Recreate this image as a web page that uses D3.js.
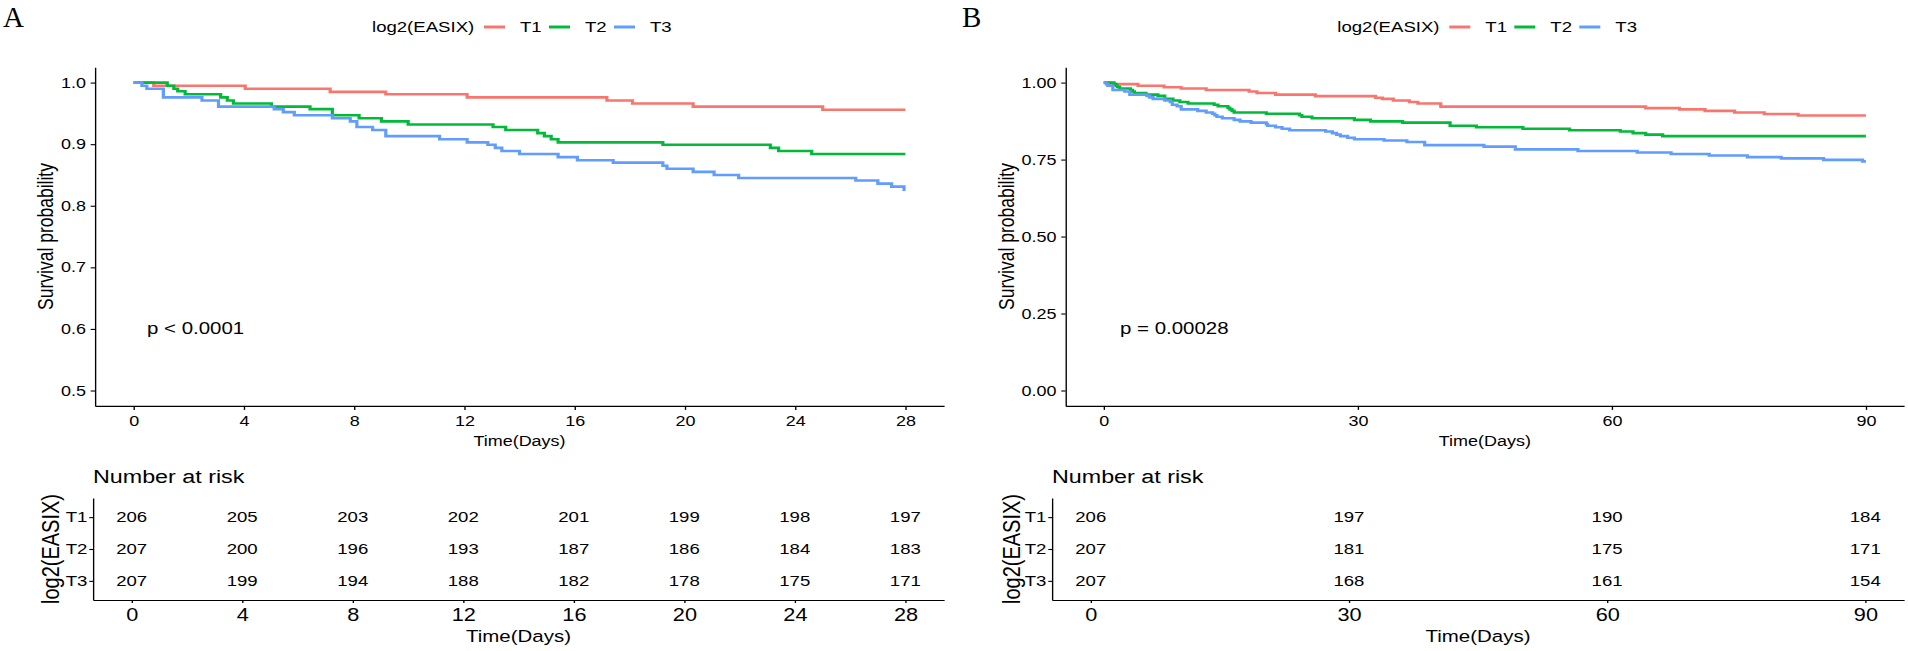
<!DOCTYPE html>
<html>
<head>
<meta charset="utf-8">
<script src="https://cdn.jsdelivr.net/npm/d3@7"></script>
<style>
  body { margin: 0; background: #fff; }
  svg { display: block; }
</style>
</head>
<body>
<svg id="chart"></svg>
<script>
// the whole figure is stretched a little in x, so draw in a narrower frame and stretch it
var W = 1908, H = 651, SX = 1.24;
var FONT = "'Liberation Sans', Arial, sans-serif";
function lx(v) { return v / SX; }

var groups = ["T1", "T2", "T3"];
var colors = ["#F8766D", "#00BA38", "#619CFF"];

// Kaplan-Meier steps up to day 28 (time of drop, survival after drop)
var t1Time = [0.73, 4.05, 7.13, 9.15, 12.1, 17.17, 18.1, 20.3, 25.0];
var t1Surv = [0.995, 0.990, 0.985, 0.981, 0.976, 0.971, 0.966, 0.961, 0.956];

var t2Time = [1.22, 1.46, 1.6, 1.87, 3.16, 3.4, 3.62, 5.0, 6.4, 7.21, 8.18, 8.99, 9.96,
              13.04, 13.5, 14.66, 14.9, 15.15, 15.4, 19.2, 23.1, 23.4, 24.6];
var t2Surv = [0.995, 0.990, 0.986, 0.981, 0.976, 0.971, 0.966, 0.961, 0.957, 0.947, 0.942, 0.937, 0.932,
              0.928, 0.923, 0.918, 0.913, 0.908, 0.903, 0.899, 0.894, 0.889, 0.884];

var t3Time = [0.3, 0.48, 1.08, 2.48, 3.08, 5.1, 5.43, 5.83, 7.21, 7.86, 8.1, 8.67, 9.15, 11.1,
              12.1, 12.85, 13.12, 13.36, 14.0, 15.4, 16.1, 17.4, 19.2, 19.35, 20.3, 21.06, 21.95,
              26.2, 27.0, 27.5, 27.95];
var t3Surv = [0.995, 0.990, 0.976, 0.971, 0.961, 0.957, 0.952, 0.947, 0.942, 0.937, 0.928, 0.923, 0.913, 0.908,
              0.903, 0.899, 0.894, 0.889, 0.884, 0.879, 0.874, 0.870, 0.865, 0.860, 0.855, 0.850, 0.845,
              0.841, 0.836, 0.831, 0.826];

// steps after day 28 (only in the 90 day panel)
var t1TimeLate = [32.1, 32.9, 34.2, 36.1, 37.1, 39.8, 64, 68, 71, 74.5, 78, 82];
var t1SurvLate = [0.951, 0.947, 0.942, 0.937, 0.932, 0.922, 0.917, 0.913, 0.908, 0.903, 0.898, 0.893];

var t2TimeLate = [29.6, 31.5, 35.3, 40.9, 44, 49.5, 55, 61, 62.5, 64, 66];
var t2SurvLate = [0.879, 0.874, 0.870, 0.860, 0.855, 0.850, 0.845, 0.841, 0.836, 0.831, 0.826];

var t3TimeLate = [28.8, 29.6, 33.1, 35.8, 37.9, 44.9, 48.6, 56, 63, 67, 71.5, 76, 80, 85, 89.6];
var t3SurvLate = [0.821, 0.816, 0.812, 0.807, 0.797, 0.792, 0.783, 0.778, 0.773, 0.768, 0.763,
                  0.758, 0.754, 0.749, 0.744];

// ticks
var xTicksA = [0, 4, 8, 12, 16, 20, 24, 28];
var xTicksB = [0, 30, 60, 90];
var yTicksA = [0.5, 0.6, 0.7, 0.8, 0.9, 1.0];
var yTicksB = [0, 0.25, 0.5, 0.75, 1.0];

// number at risk
var riskA1 = [206, 205, 203, 202, 201, 199, 198, 197];
var riskA2 = [207, 200, 196, 193, 187, 186, 184, 183];
var riskA3 = [207, 199, 194, 188, 182, 178, 175, 171];
var riskB1 = [206, 197, 190, 184];
var riskB2 = [207, 181, 175, 171];
var riskB3 = [207, 168, 161, 154];

function km(times, surv, end) {
  var pts = [[0, 1]];
  times.forEach(function(t, i) { pts.push([t, surv[i]]); });
  pts.push([end, surv[surv.length - 1]]);
  return pts;
}

var svg = d3.select("#chart")
    .attr("width", W).attr("height", H)
    .attr("viewBox", "0 0 " + (W / SX) + " " + H)
    .attr("preserveAspectRatio", "none");

var PLOT_TOP = 67.2, PLOT_BOTTOM = 405.9;
var TABLE_TOP = 498, TABLE_BOTTOM = 600;

function styleAxis(g, size) {
  g.attr("font-family", FONT);
  g.select(".domain").attr("stroke", "#000").attr("stroke-width", 1.1);
  g.selectAll(".tick line").attr("stroke", "#000").attr("stroke-width", 1.1);
  g.selectAll(".tick text").attr("fill", "#000").attr("font-size", size);
}

function addText(g, x, y, str, size, anchor) {
  return g.append("text")
      .attr("x", x).attr("y", y)
      .attr("font-family", FONT)
      .attr("font-size", size)
      .attr("text-anchor", anchor || "start")
      .attr("fill", "#000")
      .text(str);
}

function drawPanel(p) {
  var g = svg.append("g");

  var x = d3.scaleLinear().domain(p.xDomain).range([lx(p.plotLeft), lx(p.plotRight)]);
  var y = d3.scaleLinear().domain(p.yDomain).range([PLOT_BOTTOM, PLOT_TOP]);

  // panel letter, not stretched
  g.append("text")
      .attr("transform", "translate(" + lx(p.letterX) + ",26.5) scale(" + (1 / SX) + ",1)")
      .attr("font-family", "'Liberation Serif', 'Times New Roman', serif")
      .attr("font-size", 29)
      .attr("fill", "#000")
      .text(p.letter);

  // legend
  var cx = lx((p.plotLeft + p.plotRight) / 2);
  var leg = g.append("g").attr("transform", "translate(" + (cx - lx(147.5)) + ",0)");
  addText(leg, 0, 32.3, "log2(EASIX)", 15);
  groups.forEach(function(name, i) {
    leg.append("line")
        .attr("x1", lx(112 + 65 * i)).attr("x2", lx(133 + 65 * i))
        .attr("y1", 27).attr("y2", 27)
        .attr("stroke", colors[i]).attr("stroke-width", 3);
    addText(leg, lx(148 + 65 * i), 32.3, name, 15);
  });

  // axes
  var gx = g.append("g")
      .attr("transform", "translate(0," + PLOT_BOTTOM + ")")
      .call(d3.axisBottom(x).tickValues(p.xTicks).tickSize(4).tickSizeOuter(0).tickPadding(5.5));
  styleAxis(gx, 14.5);

  var gy = g.append("g")
      .attr("transform", "translate(" + lx(p.plotLeft) + ",0)")
      .call(d3.axisLeft(y).tickValues(p.yTicks).tickFormat(d3.format(p.yFormat))
        .tickSize(3.5).tickSizeOuter(0).tickPadding(3.8));
  styleAxis(gy, 14.5);

  addText(g, cx, 446, "Time(Days)", 14.5, "middle");
  g.append("text")
      .attr("transform", "translate(" + lx(p.yTitleX) + "," + 236.5 + ") rotate(-90)")
      .attr("dy", "0.35em")
      .attr("text-anchor", "middle")
      .attr("font-family", FONT)
      .attr("font-size", 17.5)
      .attr("fill", "#000")
      .text("Survival probability");

  // curves
  var line = d3.line()
      .curve(d3.curveStepAfter)
      .x(function(d) { return x(d[0]); })
      .y(function(d) { return y(d[1]); });
  p.curves.forEach(function(c, i) {
    g.append("path")
        .datum(c)
        .attr("fill", "none")
        .attr("stroke", colors[i])
        .attr("stroke-width", 2.6)
        .attr("d", line);
  });

  addText(g, lx(p.pvalX), 334, p.pval, 16.5);

  // risk table
  var tx = d3.scaleLinear().domain(p.xDomain).range([lx(p.tableLeft), lx(p.plotRight)]);
  var ty = d3.scalePoint().domain(groups).range([TABLE_TOP, TABLE_BOTTOM]).padding(0.6);

  addText(g, lx(p.tableLeft), 483, "Number at risk", 18.8);

  var tgx = g.append("g")
      .attr("transform", "translate(0," + TABLE_BOTTOM + ")")
      .call(d3.axisBottom(tx).tickValues(p.xTicks).tickSize(3).tickSizeOuter(0).tickPadding(6));
  styleAxis(tgx, 17.5);

  var tgy = g.append("g")
      .attr("transform", "translate(" + lx(p.tableLeft) + ",0)")
      .call(d3.axisLeft(ty).tickSize(3).tickSizeOuter(0).tickPadding(1.5));
  styleAxis(tgy, 15);

  p.risk.forEach(function(row, i) {
    g.append("g").selectAll("text")
      .data(row)
      .enter().append("text")
        .attr("x", function(d, j) { return tx(p.xTicks[j]); })
        .attr("y", ty(groups[i]))
        .attr("dy", "0.35em")
        .attr("text-anchor", "middle")
        .attr("font-family", FONT)
        .attr("font-size", 15)
        .attr("fill", "#000")
        .text(function(d) { return d; });
  });

  addText(g, lx((p.tableLeft + p.plotRight) / 2), 642, "Time(Days)", 16.5, "middle");
  g.append("text")
      .attr("transform", "translate(" + lx(p.tableTitleX) + ",549) rotate(-90)")
      .attr("dy", "0.35em")
      .attr("text-anchor", "middle")
      .attr("font-family", FONT)
      .attr("font-size", 20)
      .attr("fill", "#000")
      .text("log2(EASIX)");
}

drawPanel({
  letter: "A", letterX: 3,
  plotLeft: 95, plotRight: 944, tableLeft: 93,
  xDomain: [-1.4, 29.4], yDomain: [0.475, 1.025],
  xTicks: xTicksA, yTicks: yTicksA, yFormat: ".1f",
  yTitleX: 45, tableTitleX: 50,
  pval: "p < 0.0001", pvalX: 147,
  curves: [km(t1Time, t1Surv, 28), km(t2Time, t2Surv, 28), km(t3Time, t3Surv, 28)],
  risk: [riskA1, riskA2, riskA3]
});

drawPanel({
  letter: "B", letterX: 962,
  plotLeft: 1065.6, plotRight: 1904, tableLeft: 1052,
  xDomain: [-4.5, 94.5], yDomain: [-0.05, 1.05],
  xTicks: xTicksB, yTicks: yTicksB, yFormat: ".2f",
  yTitleX: 1006, tableTitleX: 1011,
  pval: "p = 0.00028", pvalX: 1120,
  curves: [
    km(t1Time.concat(t1TimeLate), t1Surv.concat(t1SurvLate), 90),
    km(t2Time.concat(t2TimeLate), t2Surv.concat(t2SurvLate), 90),
    km(t3Time.concat(t3TimeLate), t3Surv.concat(t3SurvLate), 90)
  ],
  risk: [riskB1, riskB2, riskB3]
});
</script>
</body>
</html>
